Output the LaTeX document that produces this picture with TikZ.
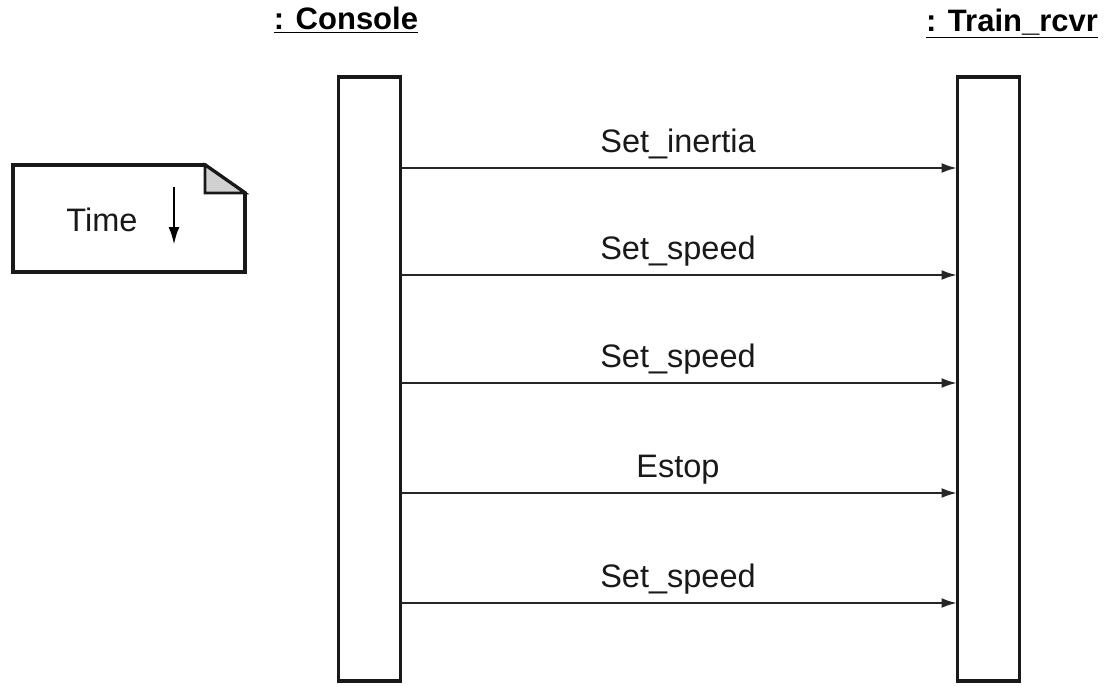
\documentclass[tikz,border=0pt]{standalone}
\usepackage{fontspec}
\setmainfont{Liberation Sans}
\usetikzlibrary{arrows.meta}
\begin{document}
\begin{tikzpicture}[x=1pt,y=-1pt,
  bar/.style={draw=black!90,line width=3.8pt,fill=white,minimum width=62pt,minimum height=604pt,inner sep=0pt,outer sep=0pt},
  msg/.style={draw=black!85,line width=2.8pt,-{Latex[length=16pt,width=10pt]}},
  msglabel/.style={anchor=base,font=\fontsize{32.5}{38}\selectfont,text=black!90,inner sep=0pt},
  header/.style={anchor=base,font=\bfseries\fontsize{31}{36}\selectfont,inner sep=0pt},
  notebox/.style={draw=black!90,line width=3.8pt,line join=miter}
]
\useasboundingbox (0,0) rectangle (1107,685);
% headers
\node[header] (hc) at (346,30) {\underline{: Console}};
\node[header] (ht) at (1012,32) {\underline{: Train\_rcvr}};
% lifeline bars
\node[bar] (console) at (369.5,379) {};
\node[bar] (train) at (988.5,379) {};
% note
\draw[notebox] (13,165) -- (205,165) -- (245,193) -- (245,272) -- (13,272) -- cycle;
\draw[notebox,line width=2.8pt,fill=black!18] (205,165) -- (205,193) -- (245,193) -- cycle;
\node[msglabel] (time) at (102,231) {Time};
\coordinate (ta) at (174,187);
\coordinate (tb) at (174,245);
\draw[line width=2.8pt,-{Latex[length=18pt,width=11pt]}] (ta) -- (tb);
% messages
\foreach \i/\y/\t in {1/168/Set\_inertia,2/275/Set\_speed,3/383/Set\_speed,4/493/Estop,5/603/Set\_speed}{
  \coordinate (m\i) at (678,\y);
  \node[msglabel] (l\i) at (678,\y-16) {\t};
  \draw[msg] (console.east |- m\i) -- (train.west |- m\i);
}
\end{tikzpicture}
\end{document}
